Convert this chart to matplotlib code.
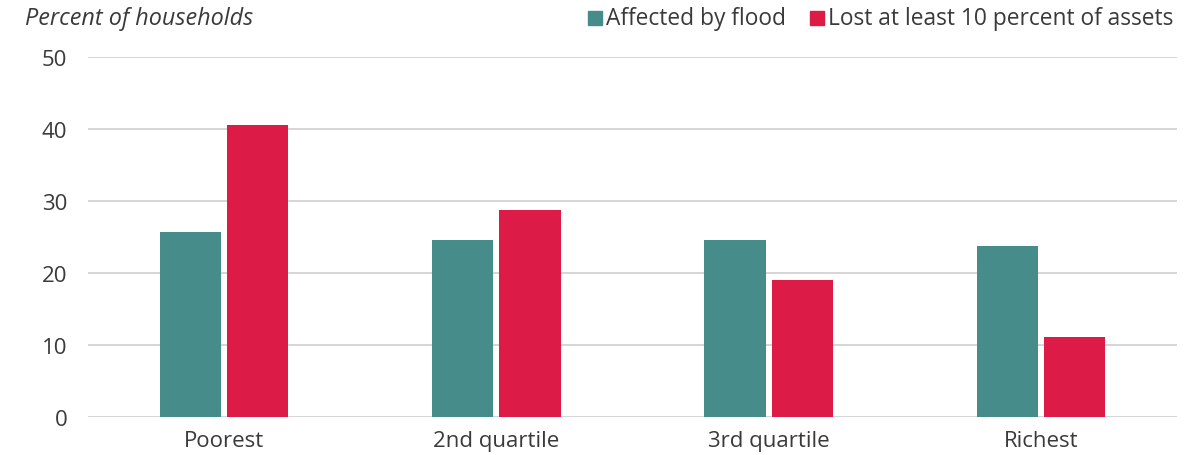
import matplotlib
matplotlib.use("Agg")
import matplotlib.pyplot as plt
from matplotlib.patches import Rectangle
import numpy as np

categories = ["Poorest", "2nd quartile", "3rd quartile", "Richest"]
affected_by_flood = [25.7, 24.6, 24.6, 23.8]
lost_assets = [40.5, 28.8, 19.0, 11.1]
series_names = ["Affected by flood", "Lost at least 10 percent of assets"]
y_ticks = [0, 10, 20, 30, 40, 50]

teal = "#468C8A"
crimson = "#DC1C46"
text_color = "#3a3a3a"
grid_color = "#d2d2d2"

plt.rcParams["font.family"] = ["Open Sans", "DejaVu Sans"]

fig = plt.figure(figsize=(11.99, 4.56), dpi=100)
ax = fig.add_axes([0.0734, 0.0833, 0.9083, 0.7895])

x = np.arange(len(categories))
width = 0.225
offset = 0.1235
ax.bar(x - offset, affected_by_flood, width, color=teal, zorder=3)
ax.bar(x + offset, lost_assets, width, color=crimson, zorder=3)

ax.set_xlim(-0.5, len(categories) - 0.5)
ax.set_ylim(0, 50)
ax.set_yticks(y_ticks)
ax.set_yticklabels([str(t) for t in y_ticks])
ax.set_xticks(x)
ax.set_xticklabels(categories)
ax.tick_params(axis="both", length=0, labelsize=16, colors=text_color)
ax.tick_params(axis="y", pad=15)
ax.tick_params(axis="x", pad=9)
ax.yaxis.grid(True, color=grid_color, linewidth=1.3, zorder=0)
ax.set_axisbelow(True)
for s in ax.spines.values():
    s.set_visible(False)

fig.text(0.021, 0.958, "Percent of households", fontsize=16.8, style="italic",
         color=text_color, ha="left", va="center")

# Legend drawn as square markers followed by labels
ax_leg = fig.add_axes([0, 0, 1, 1], frameon=False)
ax_leg.set_xlim(0, 1199)
ax_leg.set_ylim(456, 0)
ax_leg.axis("off")
sq = 14
legend_y = 19
ax_leg.add_patch(Rectangle((588, legend_y - sq / 2), sq, sq, color=teal))
ax_leg.text(606, legend_y, series_names[0], fontsize=16.4, color=text_color,
            va="center", ha="left")
ax_leg.add_patch(Rectangle((810, legend_y - sq / 2), sq, sq, color=crimson))
ax_leg.text(828, legend_y, series_names[1], fontsize=16.4, color=text_color,
            va="center", ha="left")

fig.savefig("out.png", dpi=100, facecolor="white")
